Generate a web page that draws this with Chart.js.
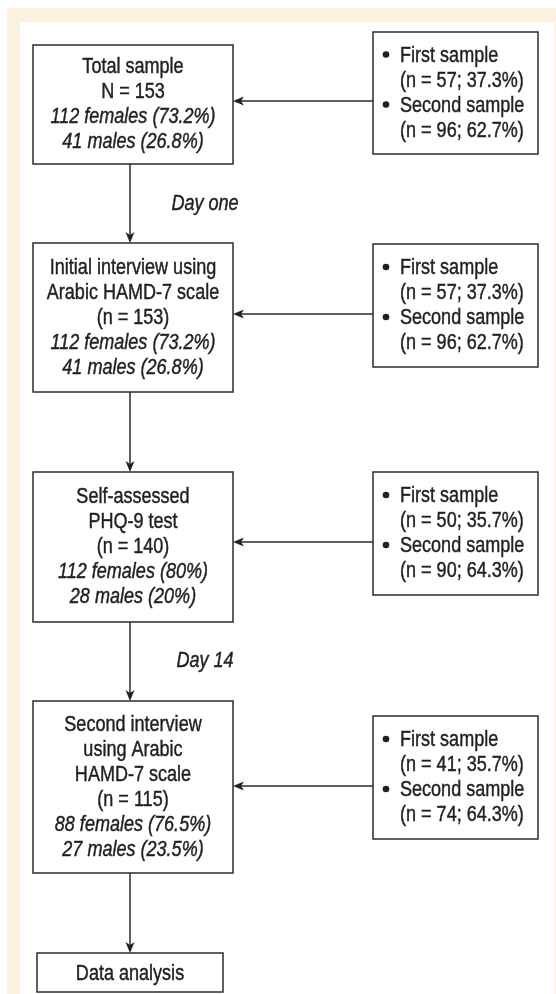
<!DOCTYPE html>
<html>
<head>
<meta charset="utf-8">
<script src="https://cdn.jsdelivr.net/npm/chart.js@4"></script>
<style>
  html, body { margin: 0; padding: 0; background: #ffffff; }
  canvas { display: block; }
</style>
</head>
<body>
<canvas id="flow" width="556" height="994"></canvas>
<script>
// ---- data ----
var stageTitles = [
    ["Total sample"],
    ["Initial interview using", "Arabic HAMD-7 scale"],
    ["Self-assessed", "PHQ-9 test"],
    ["Second interview", "using Arabic", "HAMD-7 scale"]
];
var stageN = [153, 153, 140, 115];
var femaleCount = [112, 112, 112, 88];
var femalePct = [73.2, 73.2, 80, 76.5];
var maleCount = [41, 41, 28, 27];
var malePct = [26.8, 26.8, 20, 23.5];

var firstN = [57, 57, 50, 41];
var firstPct = [37.3, 37.3, 35.7, 35.7];
var secondN = [96, 96, 90, 74];
var secondPct = [62.7, 62.7, 64.3, 64.3];

var dayLabels = ["Day one", "", "Day 14", ""];
var finalStep = "Data analysis";

// ---- layout (in scale units) ----
var mainBoxX = [33, 233];
var mainBoxY = [[45, 164], [243, 392], [472, 622], [701, 873]];
var sideBoxX = [373, 538];
var sideBoxY = [[32, 154], [244, 367], [472, 595], [716, 839]];
var linkY = [101, 314, 542, 786];
var stemX = 130;
var endBox = [37, 223, 953, 992];
var dayLabelY = [204, 0, 661, 0];
var dayLabelX = 205;
var lineGap = 25;

var ink = "#231f20";
var cream = "#fcf1de";

// check whether narrow font is there, otherwise squeeze normal sans
var probe = document.createElement("canvas").getContext("2d");
probe.font = "21px 'Liberation Sans Narrow', monospace";
var w1 = probe.measureText("Total sample").width;
probe.font = "21px monospace";
var w2 = probe.measureText("Total sample").width;
var hasNarrow = Math.abs(w1 - w2) > 0.5;

function txt(ctx, s, x, y, align, italic) {
    ctx.save();
    ctx.translate(x, y);
    ctx.fillStyle = ink;
    ctx.strokeStyle = ink;
    ctx.lineWidth = 0.45;
    ctx.textAlign = align;
    ctx.textBaseline = "middle";
    if (hasNarrow) {
        ctx.font = (italic ? "italic " : "") + "22px 'Liberation Sans Narrow'";
    } else {
        ctx.scale(0.82, 1);
        ctx.font = (italic ? "italic " : "") + "22px 'Liberation Sans', Arial";
    }
    ctx.fillText(s, 0, 0);
    ctx.strokeText(s, 0, 0);
    ctx.restore();
}

function pct(v) {
    return v.toString();
}

var flowPlugin = {
    id: "flow",
    afterDraw: function(chart) {
        var ctx = chart.ctx;
        var sx = chart.scales.x, sy = chart.scales.y;
        function X(v) { return sx.getPixelForValue(v); }
        function Y(v) { return sy.getPixelForValue(v); }

        function box(x0, x1, y0, y1) {
            ctx.fillStyle = "#ffffff";
            ctx.fillRect(X(x0), Y(y0), X(x1) - X(x0), Y(y1) - Y(y0));
            ctx.strokeStyle = "#2b2b2b";
            ctx.lineWidth = 1.5;
            ctx.strokeRect(X(x0), Y(y0), X(x1) - X(x0), Y(y1) - Y(y0));
        }
        function arrow(x0, y0, x1, y1) {
            var px0 = X(x0), py0 = Y(y0), px1 = X(x1), py1 = Y(y1);
            var a = Math.atan2(py1 - py0, px1 - px0);
            ctx.strokeStyle = "#2b2b2b";
            ctx.lineWidth = 1.5;
            ctx.beginPath();
            ctx.moveTo(px0, py0);
            ctx.lineTo(px1 - 6 * Math.cos(a), py1 - 6 * Math.sin(a));
            ctx.stroke();
            ctx.save();
            ctx.translate(px1, py1);
            ctx.rotate(a);
            ctx.fillStyle = "#222222";
            ctx.beginPath();
            ctx.moveTo(0, 0);
            ctx.lineTo(-11, -4.5);
            ctx.lineTo(-8, 0);
            ctx.lineTo(-11, 4.5);
            ctx.closePath();
            ctx.fill();
            ctx.restore();
        }

        ctx.save();
        // frame
        ctx.fillStyle = cream;
        ctx.fillRect(X(7), Y(8), X(556) - X(7), Y(994) - Y(8));
        ctx.fillStyle = "#ffffff";
        ctx.fillRect(X(20), Y(22), X(554.5) - X(20), Y(994) - Y(22));

        for (var i = 0; i < stageN.length; i++) {
            // main box
            box(mainBoxX[0], mainBoxX[1], mainBoxY[i][0], mainBoxY[i][1]);
            var lines = [];
            for (var k = 0; k < stageTitles[i].length; k++) lines.push([stageTitles[i][k], false]);
            lines.push([i === 0 ? "N = " + stageN[i] : "(n = " + stageN[i] + ")", false]);
            lines.push([femaleCount[i] + " females (" + pct(femalePct[i]) + "%)", true]);
            lines.push([maleCount[i] + " males (" + pct(malePct[i]) + "%)", true]);
            var cy = (mainBoxY[i][0] + mainBoxY[i][1]) / 2;
            var cx = (mainBoxX[0] + mainBoxX[1]) / 2;
            var top = cy - (lines.length - 1) * lineGap / 2;
            for (var k = 0; k < lines.length; k++) {
                txt(ctx, lines[k][0], X(cx), Y(top + k * lineGap), "center", lines[k][1]);
            }

            // side box
            box(sideBoxX[0], sideBoxX[1], sideBoxY[i][0], sideBoxY[i][1]);
            var sLines = [
                [true, "First sample"],
                [false, "(n = " + firstN[i] + "; " + firstPct[i].toFixed(1) + "%)"],
                [true, "Second sample"],
                [false, "(n = " + secondN[i] + "; " + secondPct[i].toFixed(1) + "%)"]
            ];
            var scy = (sideBoxY[i][0] + sideBoxY[i][1]) / 2;
            var stop = scy - 1.5 * lineGap;
            for (var k = 0; k < sLines.length; k++) {
                var ly = stop + k * lineGap;
                if (sLines[k][0]) {
                    ctx.fillStyle = ink;
                    ctx.beginPath();
                    ctx.arc(X(386), Y(ly - 1), 3.3, 0, Math.PI * 2);
                    ctx.fill();
                }
                txt(ctx, sLines[k][1], X(400), Y(ly), "left", false);
            }

            // link from side box
            arrow(sideBoxX[0], linkY[i], mainBoxX[1], linkY[i]);

            // stem down to next step
            var nextTop = i < stageN.length - 1 ? mainBoxY[i + 1][0] : endBox[2];
            arrow(stemX, mainBoxY[i][1], stemX, nextTop);

            if (dayLabels[i]) {
                txt(ctx, dayLabels[i], X(dayLabelX), Y(dayLabelY[i]), "center", true);
            }
        }

        box(endBox[0], endBox[1], endBox[2], endBox[3]);
        txt(ctx, finalStep, X((endBox[0] + endBox[1]) / 2), Y((endBox[2] + endBox[3]) / 2 + 1), "center", false);
        ctx.restore();
    }
};

var chart = new Chart(document.getElementById("flow").getContext("2d"), {
    type: "scatter",
    data: { datasets: [{ data: [], pointRadius: 0 }] },
    options: {
        responsive: false,
        animation: false,
        events: [],
        layout: { padding: 0 },
        plugins: { legend: { display: false }, tooltip: { enabled: false } },
        scales: {
            x: { type: "linear", min: 0, max: 556, display: false },
            y: { type: "linear", min: 0, max: 994, reverse: true, display: false }
        }
    },
    plugins: [flowPlugin]
});
</script>
</body>
</html>
